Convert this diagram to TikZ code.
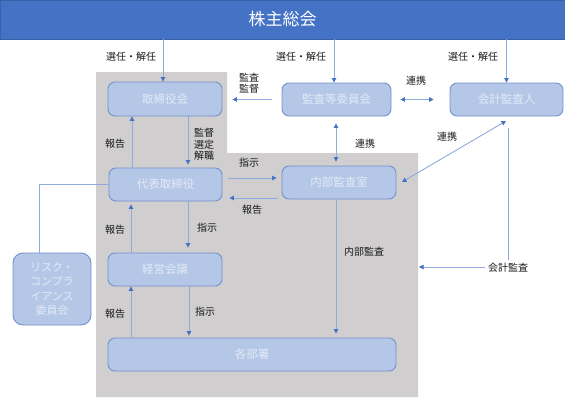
\documentclass[tikz,border=0pt]{standalone}
\usepackage{fontspec}
\setmainfont{Noto Sans CJK JP}
\usetikzlibrary{arrows.meta,calc}
\definecolor{barblue}{HTML}{4472C4}
\definecolor{boxfill}{HTML}{B4C7E7}
\definecolor{boxline}{HTML}{7391CC}
\definecolor{boxtext}{HTML}{E4EAF6}
\definecolor{linecol}{HTML}{8FAADC}
\definecolor{tipcol}{HTML}{4472C4}
\definecolor{graybg}{HTML}{D0CECE}
\definecolor{labcol}{HTML}{1A1A1A}
\tikzset{
  box/.style={draw=boxline, line width=0.9pt, fill=boxfill, rounded corners=7pt,
    text=boxtext, font=\fontsize{11.5}{14}\selectfont, inner sep=0pt, align=center},
  conn/.style={draw=linecol, line width=0.9pt},
  arr/.style={conn, -{Triangle[length=4.5pt,width=4.5pt,color=tipcol]}},
  darr/.style={conn, {Triangle[length=4.5pt,width=4.5pt,color=tipcol]}-{Triangle[length=4.5pt,width=4.5pt,color=tipcol]}},
  lab/.style={text=labcol, font=\fontsize{10}{11.5}\selectfont, align=center, inner sep=1pt}
}
\begin{document}
\begin{tikzpicture}[x=1pt,y=-1pt]
\useasboundingbox (0,0) rectangle (565,397);
\fill[white] (0,0) rectangle (565,397);
% gray area
\fill[graybg] (96,72) -- (227,72) -- (227,153) -- (418,153) -- (418,397) -- (96,397) -- cycle;
% top bar
\node[fill=barblue, draw=barblue!85!black, line width=0.6pt, minimum width=565pt, minimum height=39pt,
  inner sep=0pt, text=white, font=\fontsize{17}{18}\selectfont] (soukai) at (282.5,19.5) {株主総会};
% boxes
\node[box, minimum width=114pt, minimum height=34pt] (tr) at (165,99) {取締役会};
\node[box, minimum width=109pt, minimum height=33pt] (ka) at (336.5,99.5) {監査等委員会};
\node[box, minimum width=113pt, minimum height=33pt] (kk) at (506.5,99.5) {会計監査人};
\node[box, minimum width=113pt, minimum height=33pt] (dh) at (165.5,184.5) {代表取締役};
\node[box, minimum width=114pt, minimum height=33pt] (nb) at (339,182.5) {内部監査室};
\node[box, minimum width=78pt, minimum height=72pt, rounded corners=10pt,
  font=\fontsize{11}{14.5}\selectfont] (rk) at (52,289) {リスク・\\コンプラ\\イアンス\\委員会};
\node[box, minimum width=114pt, minimum height=33pt] (kg) at (165,269.5) {経営会議};
\node[box, minimum width=288pt, minimum height=33pt] (bs) at (252,354.5) {各部署};
% labels
\node[lab] at (131,57) {選任・解任};
\node[lab] at (301,57) {選任・解任};
\node[lab] at (473,57) {選任・解任};
\node[lab] at (249,83) {監査\\監督};
\node[lab] at (416,81) {連携};
\node[lab] at (115,144) {報告};
\node[lab] at (204,144.5) {監督\\選定\\解職};
\node[lab] at (249,163) {指示};
\node[lab] at (252,210) {報告};
\node[lab] at (365,144) {連携};
\node[lab] at (447,137) {連携};
\node[lab] at (115,230) {報告};
\node[lab] at (207,228) {指示};
\node[lab] at (364,252) {内部監査};
\node[lab, inner sep=3pt] (kansa) at (508,268) {会計監査};
\node[lab] at (115,314) {報告};
\node[lab] at (205,312) {指示};
% connectors from top bar
\draw[arr] (soukai.south -| 163,0) -- (tr.north -| 163,0);
\draw[arr] (soukai.south -| 334,0) -- (ka.north -| 334,0);
\draw[arr] (soukai.south -| kk.north) -- (kk.north);
% 監査等委員会 -> 取締役会
\draw[arr, shorten <=10pt, shorten >=10pt] (ka.west) -- (ka.west -| tr.east);
% 監査等委員会 <-> 会計監査人
\draw[darr, shorten <=9pt, shorten >=16pt] (ka.east) -- (ka.east -| kk.west);
% 代表取締役 <-> 取締役会
\draw[arr] (dh.north -| 132,0) -- (tr.south -| 132,0);
\draw[arr, shorten >=3pt] (tr.south -| 188,0) -- (dh.north -| 188,0);
% 代表取締役 <-> 内部監査室
\draw[arr, shorten <=6pt, shorten >=5pt] (dh.east |- 0,178) -- (nb.west |- 0,178);
\draw[arr, shorten <=4pt, shorten >=7pt] (nb.west |- 0,198) -- (dh.east |- 0,198);
% 内部監査室 <-> 監査等委員会
\draw[darr, shorten <=4pt, shorten >=7pt] (nb.north -| 336,0) -- (ka.south -| 336,0);
% 会計監査人 <-> 内部監査室
\draw[darr] (506,121) -- (402,182);
% 会計監査
\draw[conn, shorten <=12pt] (kk.south -| kansa.north) -- (kansa.north);
\coordinate (gedge) at (419,267);
\draw[arr] (kansa.west |- gedge) -- (gedge);
% 代表取締役 -> リスク委員会
\draw[conn] (dh.west) -| (rk.north -| 39,0);
% 経営会議 <-> 代表取締役
\draw[arr, shorten >=3pt] (kg.north -| 131,0) -- (dh.south -| 131,0);
\draw[arr, shorten >=5pt] (dh.south -| 188,0) -- (kg.north -| 188,0);
% 各部署 <-> 経営会議
\draw[arr] (bs.north -| 131,0) -- (kg.south -| 131,0);
\draw[arr, shorten >=2pt] (kg.south -| 189,0) -- (bs.north -| 189,0);
% 内部監査室 -> 各部署
\draw[arr, shorten >=4pt] (nb.south -| 336,0) -- (bs.north -| 336,0);
\end{tikzpicture}
\end{document}
